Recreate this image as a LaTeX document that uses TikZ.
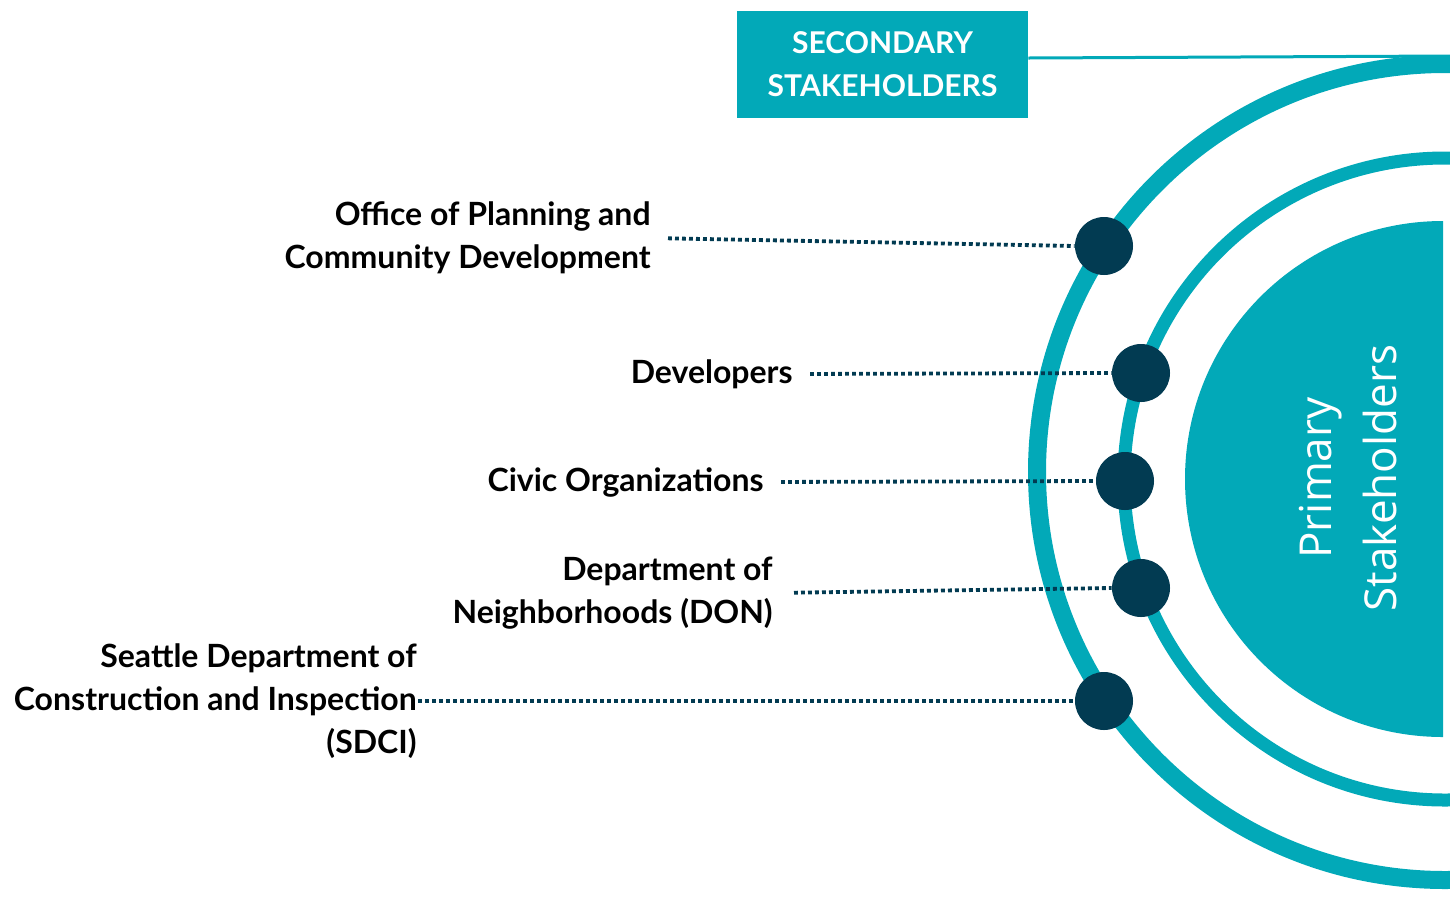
\documentclass[tikz,border=0pt]{standalone}
\usepackage{fontspec}
\setmainfont{Lato}
\newfontfamily\primfont{Open Sans}
\definecolor{myteal}{HTML}{02A9B8}
\definecolor{mynavy}{HTML}{023B52}
\begin{document}
\begin{tikzpicture}[x=0.5pt,y=-0.5pt,
  lbl/.style={font=\bfseries\fontsize{16}{21.5}\selectfont, text=black, align=right, anchor=east, inner sep=0pt},
  dot/.style={circle, fill=mynavy, minimum size=29pt, inner sep=0pt},
  conn/.style={mynavy, line width=1.9pt, dash pattern=on 1.9pt off 1.6pt, shorten <=8.5pt},
  ring/.style={myteal},
  secbox/.style={fill=myteal, text=white, minimum width=145.5pt, minimum height=53.5pt, inner sep=0pt, align=center, font=\bfseries\fontsize{15}{21.5}\selectfont}
]
\useasboundingbox (0,0) rectangle (1450,901);
% rings
\begin{scope}
  \clip (0,0) rectangle (1450,901);
  \draw[ring, line width=9pt] (1445,472) circle[radius=204pt];
  \draw[ring, line width=6.5pt] (1445,479) circle[radius=160.5pt];
\end{scope}
\begin{scope}
  \clip (0,0) rectangle (1443,901);
  \fill[myteal] (1443,479) circle[radius=129pt];
\end{scope}
\node[text=white, rotate=90, align=center, font=\primfont\fontsize{22}{32.5}\selectfont] (prim) at (1348,478) {Primary\\Stakeholders};
% secondary box
\node[secbox] (sec) at (882.5,64.5) {SECONDARY\\STAKEHOLDERS};
\coordinate (secend) at (1450,56);
\draw[myteal, line width=1.5pt] ([yshift=3.25pt]sec.east) -- (secend);
% dots
\node[dot] (d1) at (1104,246) {};
\node[dot] (d2) at (1141,373) {};
\node[dot] (d3) at (1125,481) {};
\node[dot] (d4) at (1141,588) {};
\node[dot] (d5) at (1104,701) {};
% labels
\node[lbl] (l1) at (651,238) {Office of Planning and\\Community Development};
\node[lbl] (l2) at (793,374) {Developers};
\node[lbl] (l3) at (764,482) {Civic Organizations};
\node[lbl] (l4) at (773,593) {Department of\\Neighborhoods (DON)};
\node[lbl] (l5) at (417,701) {Seattle Department of\\Construction and Inspection\\(SDCI)};
% connectors
\draw[conn] (l1.east) -- (d1.west);
\draw[conn] (l2.east) -- (d2.west);
\draw[conn] (l3.east) -- (d3.west);
\draw[conn, shorten <=10.5pt] (l4.east) -- (d4.west);
\draw[conn, shorten <=0.5pt] (l5.east) -- (d5.west);
\end{tikzpicture}
\end{document}
